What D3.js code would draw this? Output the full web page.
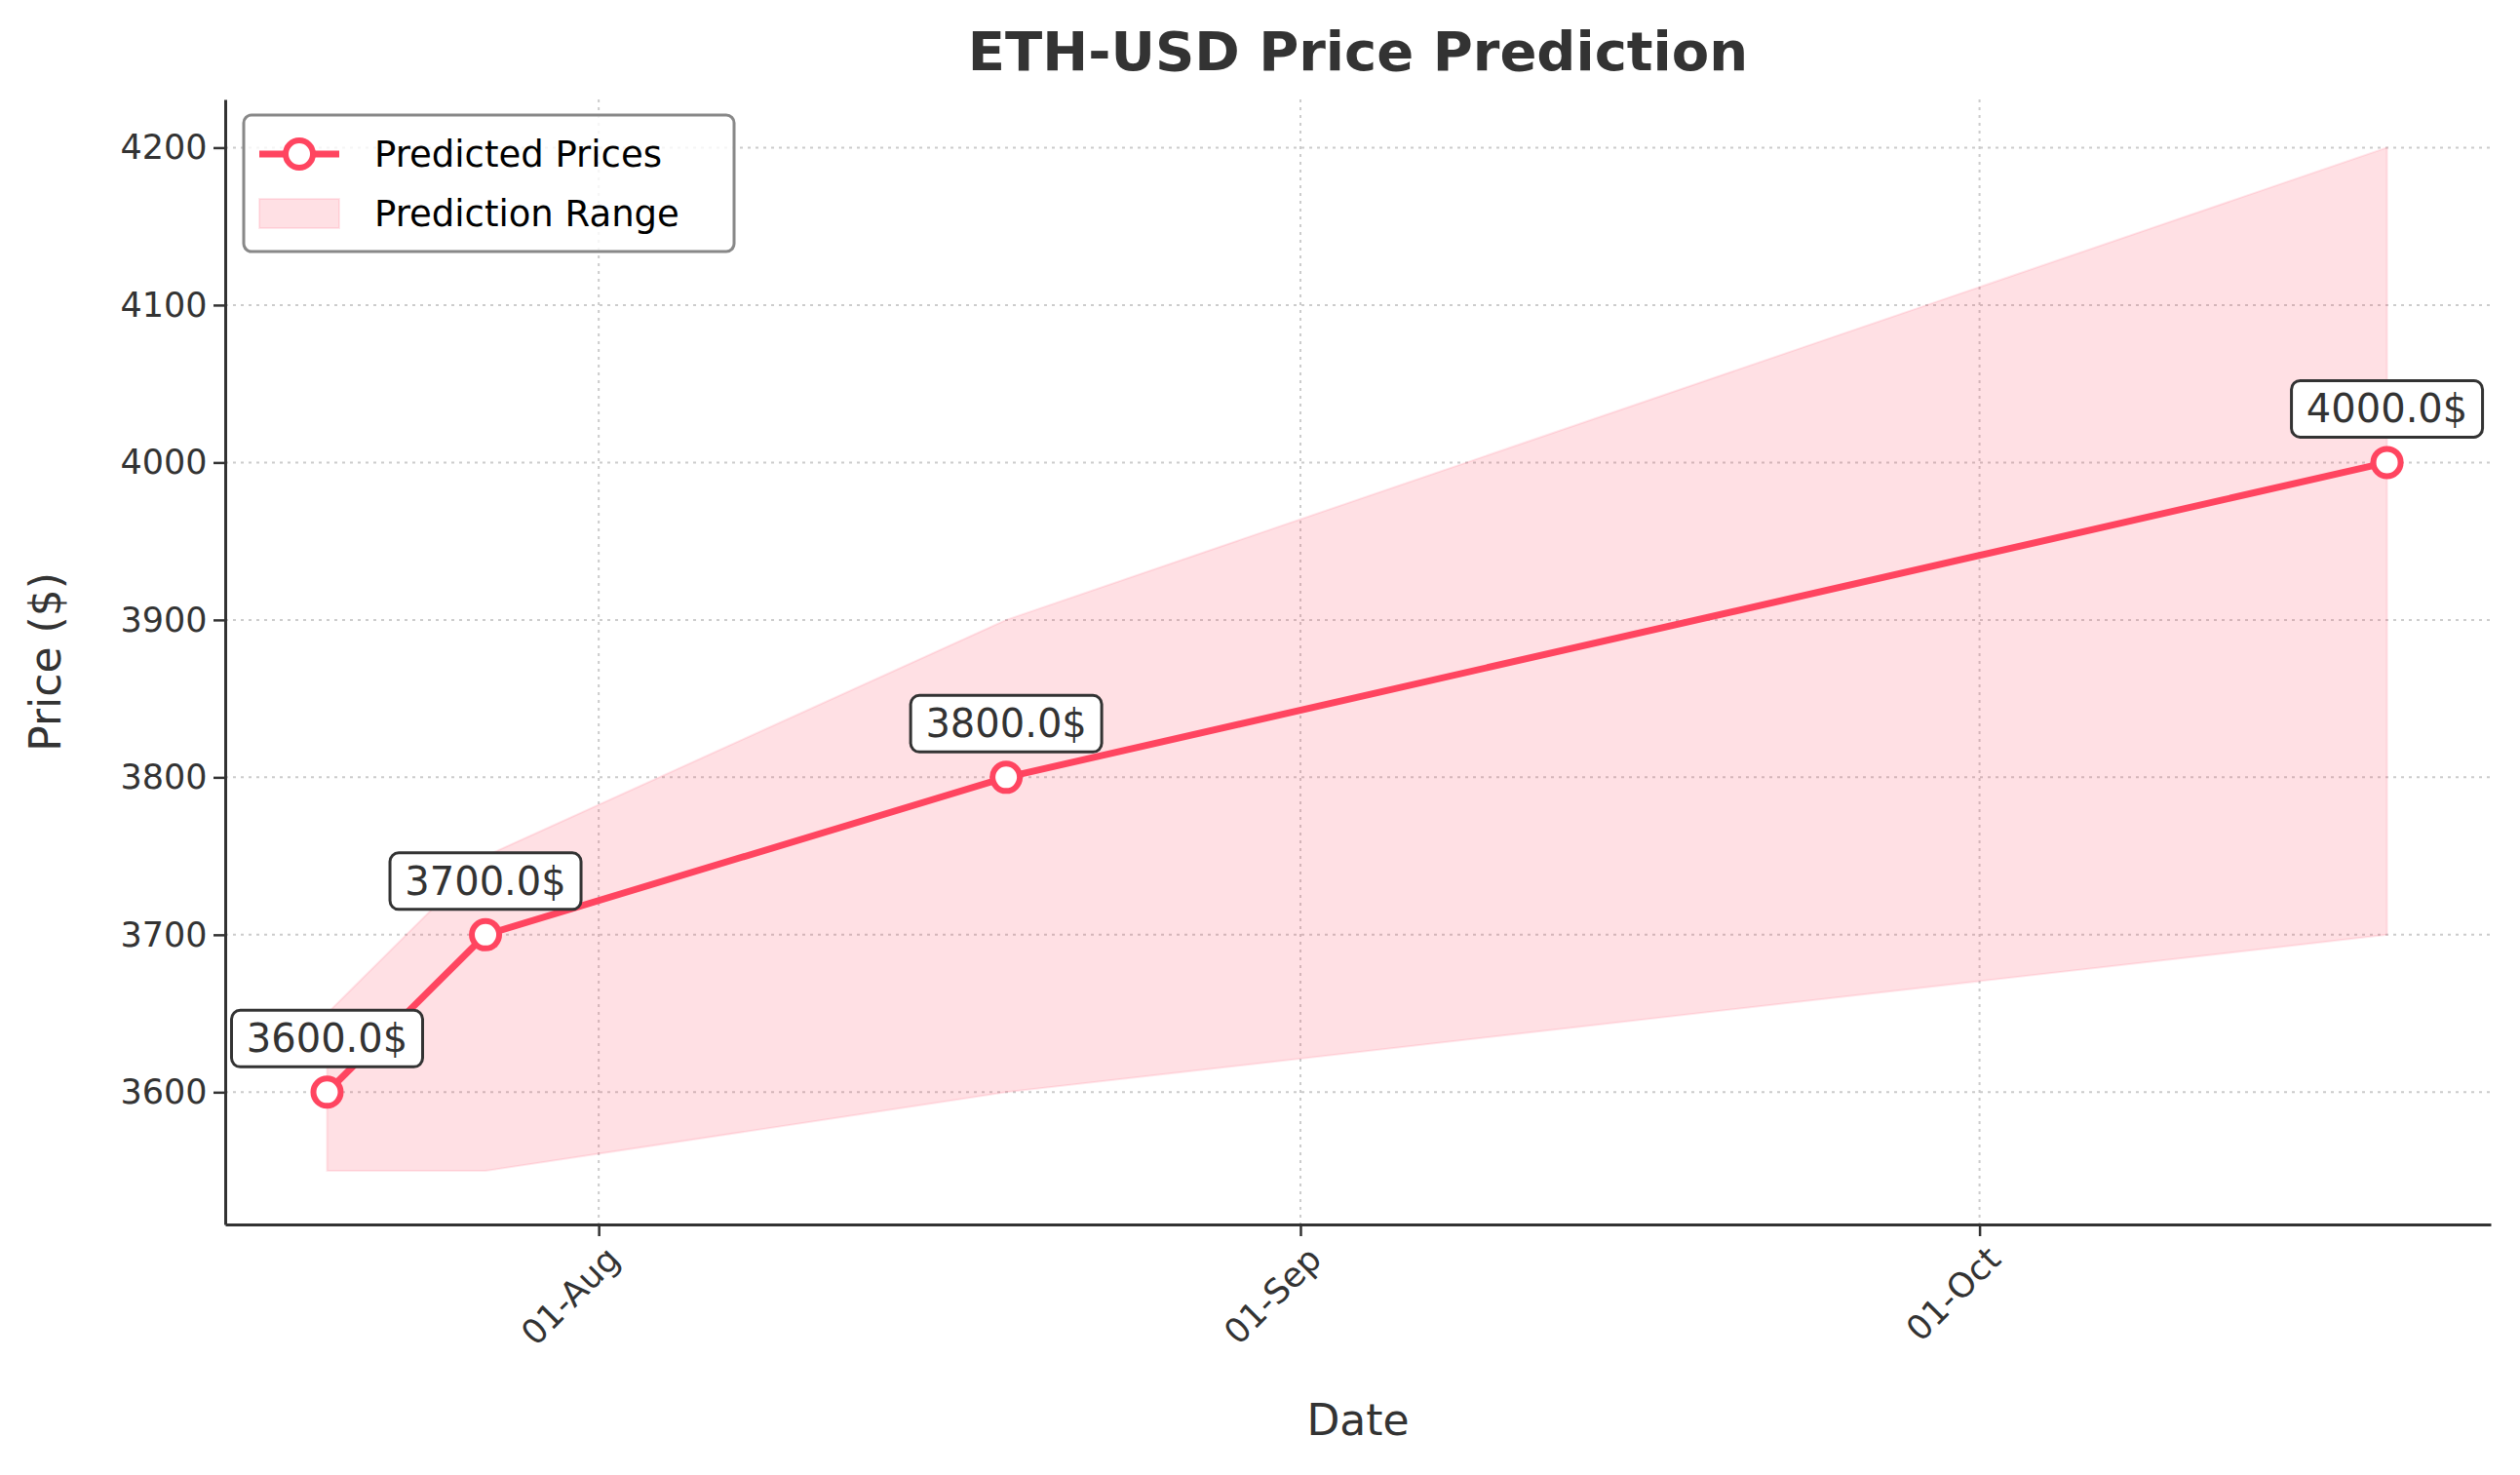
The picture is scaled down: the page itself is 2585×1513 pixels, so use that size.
<!DOCTYPE html>
<html><head><meta charset="utf-8">
<script src="https://cdn.jsdelivr.net/npm/d3@7"></script>
<style>body{margin:0;background:#fff}text{font-family:"DejaVu Sans",sans-serif}</style>
</head><body><svg id="c" width="2585" height="1513"></svg>
<script>
const dates = ["2024-07-20","2024-07-27","2024-08-19","2024-10-19"];
const predicted = [3600,3700,3800,4000];
const lower = [3550,3550,3600,3700];
const upper = [3650,3750,3900,4200];
const yTicks = [3600,3700,3800,3900,4000,4100,4200];
const xTicks = ["2024-08-01","2024-09-01","2024-10-01"];

const p = d3.timeParse("%Y-%m-%d");
const data = dates.map((d,i)=>({d:p(d),v:predicted[i],lo:lower[i],hi:upper[i]}));
const svg = d3.select("#c");
const L=231,R=2555,T=102,B=1256;
const x = d3.scaleTime().domain([new Date(2024,6,15,12),new Date(2024,9,23,14)]).range([L,R]);
const y = d3.scaleLinear().domain([3516,4230.6]).range([B,T]);
const col="#ff4560", txt="#333";

svg.append("text").attr("x",(L+R)/2).attr("y",72).attr("text-anchor","middle").attr("font-size",56).attr("font-weight","bold").attr("fill",txt).text("ETH-USD Price Prediction");

const g=svg.append("g");
yTicks.forEach(t=>g.append("line").attr("x1",L).attr("x2",R).attr("y1",y(t)).attr("y2",y(t)).attr("stroke","#ccc").attr("stroke-width",2).attr("stroke-dasharray","3,5"));
xTicks.forEach(t=>g.append("line").attr("x1",x(p(t))).attr("x2",x(p(t))).attr("y1",T).attr("y2",B).attr("stroke","#ccc").attr("stroke-width",2).attr("stroke-dasharray","3,5"));

svg.append("path").datum(data).attr("d",d3.area().x(d=>x(d.d)).y0(d=>y(d.lo)).y1(d=>y(d.hi))).attr("fill",col).attr("fill-opacity",0.17).attr("stroke",col).attr("stroke-opacity",0.12).attr("stroke-width",2);
svg.append("path").datum(data).attr("d",d3.line().x(d=>x(d.d)).y(d=>y(d.v))).attr("fill","none").attr("stroke",col).attr("stroke-width",7);
svg.selectAll("circle.pt").data(data).join("circle").attr("cx",d=>x(d.d)).attr("cy",d=>y(d.v)).attr("r",14).attr("fill","#fff").attr("stroke",col).attr("stroke-width",6);

data.forEach(d=>{
  const cx=x(d.d), cy=y(d.v)-55;
  const lbl=d.v.toFixed(1)+"$";
  const w=196,h=58;
  svg.append("rect").attr("x",cx-w/2).attr("y",cy-h/2).attr("width",w).attr("height",h).attr("rx",9).attr("fill","#fff").attr("stroke",txt).attr("stroke-width",3);
  svg.append("text").attr("x",cx).attr("y",cy+14).attr("text-anchor","middle").attr("font-size",40).attr("fill",txt).text(lbl);
});

const ax=svg.append("g").attr("transform",`translate(0,${B})`).call(d3.axisBottom(x).tickValues(xTicks.map(p)).tickFormat(d3.timeFormat("%d-%b")).tickSize(12).tickSizeOuter(0));
ax.select(".domain").attr("stroke",txt).attr("stroke-width",3);
ax.selectAll(".tick line").attr("stroke",txt).attr("stroke-width",2.5);
ax.selectAll("text").attr("font-size",35).attr("fill",txt).attr("text-anchor","end").attr("transform","rotate(-45)").attr("dx","-0.3em").attr("dy","0.8em");
const ay=svg.append("g").attr("transform",`translate(${L},0)`).call(d3.axisLeft(y).tickValues(yTicks).tickFormat(d3.format("d")).tickSize(12).tickSizeOuter(0));
ay.select(".domain").attr("stroke",txt).attr("stroke-width",3);
ay.selectAll(".tick line").attr("stroke",txt).attr("stroke-width",2.5);
ay.selectAll("text").attr("font-size",35).attr("fill",txt).attr("dx","-0.1em");

svg.append("text").attr("x",(L+R)/2).attr("y",1472).attr("text-anchor","middle").attr("font-size",44).attr("fill",txt).text("Date");
svg.append("text").attr("transform",`translate(62,${(T+B)/2}) rotate(-90)`).attr("text-anchor","middle").attr("font-size",44).attr("fill",txt).text("Price ($)");

const lg=svg.append("g").attr("transform","translate(250,118)");
lg.append("rect").attr("width",503).attr("height",140).attr("rx",8).attr("fill","#fff").attr("fill-opacity",0.8).attr("stroke","#888").attr("stroke-width",3);
lg.append("line").attr("x1",16).attr("x2",98).attr("y1",40).attr("y2",40).attr("stroke",col).attr("stroke-width",7);
lg.append("circle").attr("cx",57).attr("cy",40).attr("r",14).attr("fill","#fff").attr("stroke",col).attr("stroke-width",6);
lg.append("text").attr("x",134).attr("y",53).attr("font-size",37).attr("fill","#000").text("Predicted Prices");
lg.append("rect").attr("x",16).attr("y",86).attr("width",82).attr("height",30).attr("fill",col).attr("fill-opacity",0.17).attr("stroke",col).attr("stroke-opacity",0.12).attr("stroke-width",2);
lg.append("text").attr("x",134).attr("y",114).attr("font-size",37).attr("fill","#000").text("Prediction Range");
</script></body></html>
